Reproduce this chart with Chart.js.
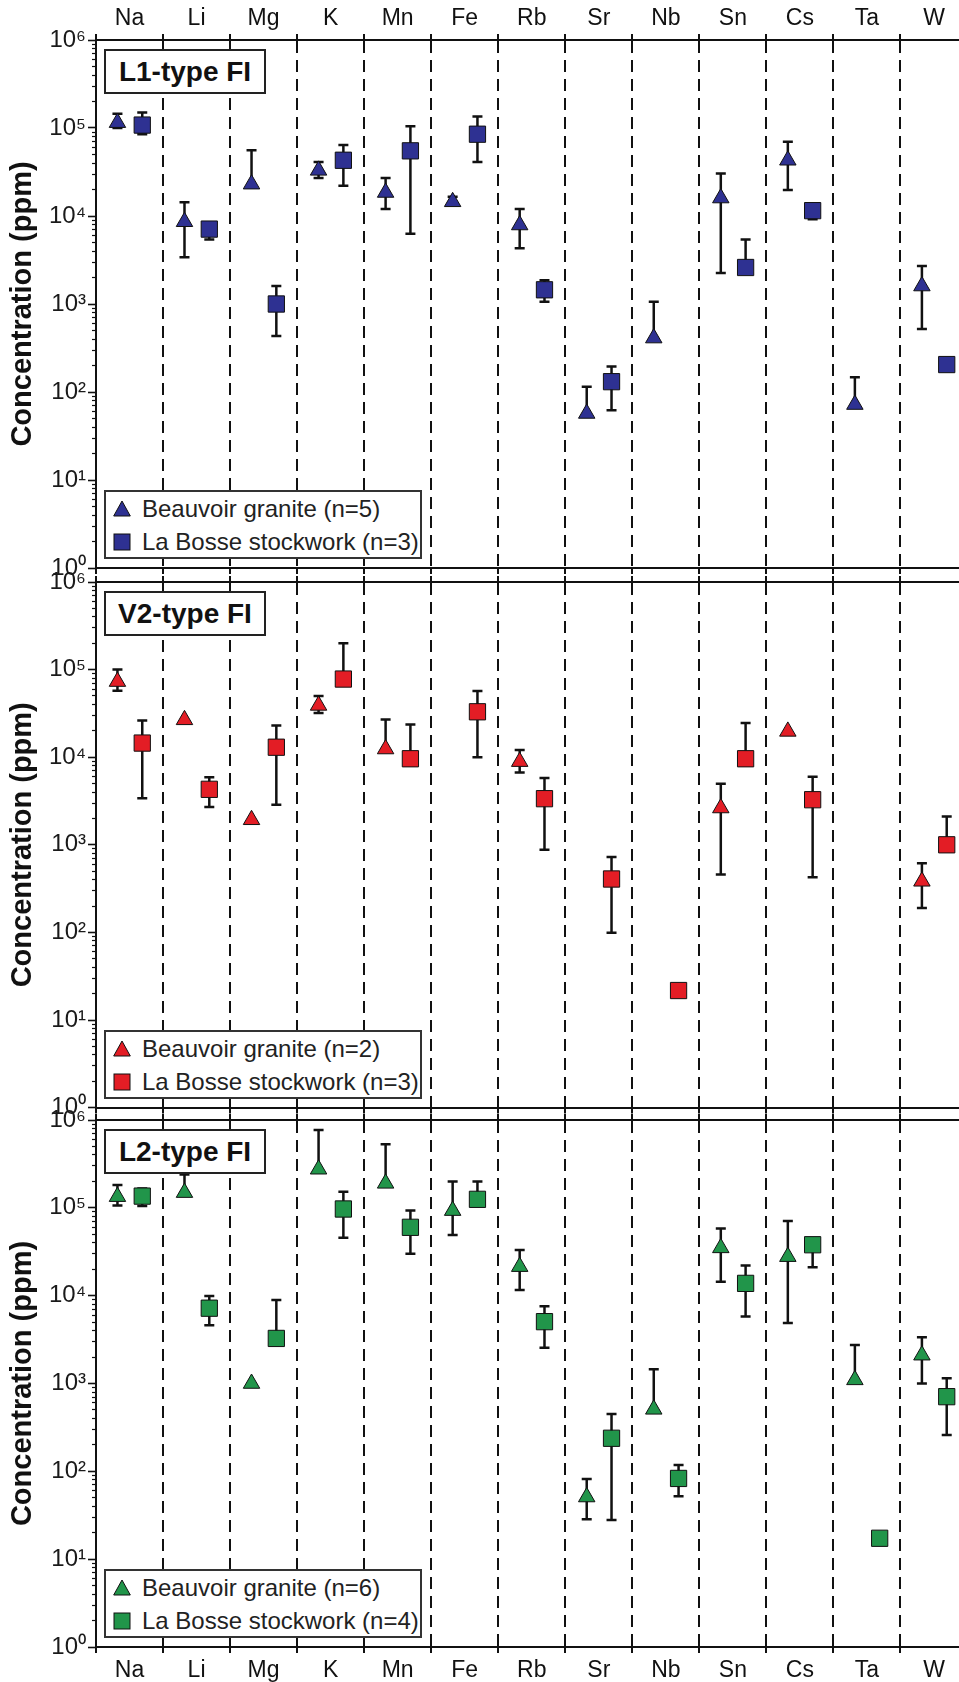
<!DOCTYPE html>
<html>
<head>
<meta charset="utf-8">
<script src="https://cdn.jsdelivr.net/npm/chart.js@4.4.0/dist/chart.umd.min.js"></script>
<style>
  html, body { margin: 0; padding: 0; background: #fff; overflow: hidden; }
  #page { position: relative; width: 959px; height: 1682px; overflow: hidden; background: #fff; }
  #page canvas { position: absolute; left: 0; }
  .tag {
    position: absolute; box-sizing: border-box; border: 2px solid #222; background: #fff;
    font: bold 28px "Liberation Sans", Arial, sans-serif; color: #111;
    text-align: center; line-height: 41px; white-space: nowrap;
  }
  .legend {
    position: absolute; box-sizing: border-box; border: 2px solid #333; background: #fff;
    font: 24px "Liberation Sans", Arial, sans-serif; color: #222;
  }
  .legend .row { position: absolute; left: 0; height: 30px; line-height: 30px; white-space: nowrap; }
  .legend svg { position: absolute; left: 7px; top: 6px; }
  .legend span { position: absolute; left: 36px; }
</style>
</head>
<body>
<div id="page"></div>
<script>
// Element columns and y ticks
const elements = ['Na', 'Li', 'Mg', 'K', 'Mn', 'Fe', 'Rb', 'Sr', 'Nb', 'Sn', 'Cs', 'Ta', 'W'];
const decades = [0, 1, 2, 3, 4, 5, 6];
const supDigits = ['\u2070', '\u00b9', '\u00b2', '\u00b3', '\u2074', '\u2075', '\u2076'];

// L1-type FI
const l1GraniteVal = [1.15e5, 8.6e3, 2.3e4, 3.3e4, 1.85e4, 1.45e4, 7.9e3, 57, 410, 1.6e4, 4.3e4, 72, 1.6e3];
const l1GraniteLo  = [1.0e5, 3.4e3, null, 2.7e4, 1.2e4, null, 4.3e3, null, null, 2.25e3, 1.97e4, null, 520];
const l1GraniteHi  = [1.45e5, 1.43e4, 5.6e4, 4.1e4, 2.7e4, 1.66e4, 1.2e4, 115, 1.06e3, 3.05e4, 7.0e4, 147, 2.7e3];
const l1StockVal   = [1.08e5, 7.1e3, 1.0e3, 4.3e4, 5.5e4, 8.5e4, 1.45e3, 131, null, 2.6e3, 1.15e4, null, 205];
const l1StockLo    = [8.5e4, 5.4e3, 433, 2.2e4, 6.3e3, 4.1e4, 1.06e3, 62, null, null, 9.2e3, null, null];
const l1StockHi    = [1.5e5, null, 1.6e3, 6.4e4, 1.05e5, 1.35e5, 1.86e3, 195, null, 5.4e3, null, null, null];

// V2-type FI
const v2GraniteVal = [7.3e4, 2.67e4, 1.93e3, 3.9e4, 1.24e4, null, 8.9e3, null, null, 2.63e3, 1.97e4, null, 383];
const v2GraniteLo  = [5.75e4, null, null, 3.2e4, null, null, 6.7e3, null, null, 457, null, null, 190];
const v2GraniteHi  = [1.0e5, null, null, 5.0e4, 2.7e4, null, 1.21e4, null, null, 4.98e3, null, null, 615];
const v2StockVal   = [1.45e4, 4.3e3, 1.3e4, 7.8e4, 9.6e3, 3.3e4, 3.36e3, 407, 21.7, 9.6e3, 3.27e3, null, 1.0e3];
const v2StockLo    = [3.4e3, 2.7e3, 2.86e3, null, null, 1.0e4, 880, 99, null, null, 427, null, null];
const v2StockHi    = [2.63e4, 5.9e3, 2.3e4, 2.0e5, 2.36e4, 5.7e4, 5.8e3, 725, null, 2.45e4, 6.0e3, null, 2.1e3];

// L2-type FI
const l2GraniteVal = [1.34e5, 1.49e5, 1.0e3, 2.75e5, 1.9e5, 9.3e4, 2.14e4, 51, 508, 3.5e4, 2.78e4, 1.1e3, 2.1e3];
const l2GraniteLo  = [1.06e5, null, null, null, null, 4.9e4, 1.16e4, 28.5, null, 1.44e4, 4.9e3, null, 1.0e3];
const l2GraniteHi  = [1.82e5, 2.4e5, null, 7.7e5, 5.3e5, 2.0e5, 3.3e4, 82, 1.45e3, 5.8e4, 7.1e4, 2.75e3, 3.36e3];
const l2StockVal   = [1.36e5, 7.2e3, 3.26e3, 9.7e4, 6.0e4, 1.25e5, 5.06e3, 238, 83, 1.38e4, 3.8e4, 17.3, 708];
const l2StockLo    = [1.05e5, 4.6e3, null, 4.57e4, 3.0e4, null, 2.55e3, 28, 52, 5.8e3, 2.1e4, null, 260];
const l2StockHi    = [1.66e5, 9.9e3, 8.9e3, 1.52e5, 9.3e4, 2.0e5, 7.6e3, 450, 118, 2.2e4, null, null, 1.15e3];

const FONT = '"Liberation Sans", Arial, sans-serif';
const INK = '#111';

var yTickValues = [];
decades.forEach(d => {
    for (var k = 1; k <= (d === 6 ? 1 : 9); k++) yTickValues.push(k * Math.pow(10, d));
});

function isPow10(v) {
    var l = Math.log10(v);
    return Math.abs(l - Math.round(l)) < 1e-9;
}

function points(vals, los, his, shift) {
    return vals
        .map((v, i) => ({ x: i + shift, y: v, lo: los[i], hi: his[i] }))
        .filter(p => p.y != null);
}

// error bars drawn behind the markers, through the chart scales
const errorBars = {
    id: 'errorBars',
    beforeDatasetsDraw(chart) {
        const { ctx, scales: { x, y } } = chart;
        ctx.save();
        ctx.strokeStyle = INK;
        ctx.lineWidth = 2.5;
        chart.data.datasets.forEach(ds => {
            ds.data.forEach(p => {
                if (p.lo == null && p.hi == null) return;
                const px = x.getPixelForValue(p.x);
                const top = y.getPixelForValue(p.hi != null ? p.hi : p.y);
                const bot = y.getPixelForValue(p.lo != null ? p.lo : p.y);
                ctx.beginPath();
                ctx.moveTo(px, top);
                ctx.lineTo(px, bot);
                if (p.hi != null) { ctx.moveTo(px - 5, top); ctx.lineTo(px + 5, top); }
                if (p.lo != null) { ctx.moveTo(px - 5, bot); ctx.lineTo(px + 5, bot); }
                ctx.stroke();
            });
        });
        ctx.restore();
    }
};

const panels = [
    { title: 'L1-type FI', color: '#2e3192', nG: 5, nS: 3,
      g: [l1GraniteVal, l1GraniteLo, l1GraniteHi], s: [l1StockVal, l1StockLo, l1StockHi],
      top: 0, height: 590, topAxis: 40, bottomAxis: 22, labels: 'top' },
    { title: 'V2-type FI', color: '#e31d25', nG: 2, nS: 3,
      g: [v2GraniteVal, v2GraniteLo, v2GraniteHi], s: [v2StockVal, v2StockLo, v2StockHi],
      top: 560, height: 564, topAxis: 22, bottomAxis: 16, labels: null },
    { title: 'L2-type FI', color: '#21954a', nG: 6, nS: 4,
      g: [l2GraniteVal, l2GraniteLo, l2GraniteHi], s: [l2StockVal, l2StockLo, l2StockHi],
      top: 1098, height: 584, topAxis: 22, bottomAxis: 35, labels: 'bottom' }
];

const page = document.getElementById('page');

function catAxis(position, size, showLabels, onArea) {
    return {
        type: 'category',
        axis: 'x',
        position: position,
        labels: elements,
        offset: true,
        grid: {
            offset: true,
            display: true,
            drawOnChartArea: onArea,
            color: INK,
            lineWidth: 2,
            tickLength: 6,
            tickColor: INK,
            tickWidth: 2,
            tickBorderDash: []
        },
        border: { display: true, color: INK, width: 2, dash: [12, 7] },
        ticks: {
            display: showLabels,
            autoSkip: false,
            maxRotation: 0,
            padding: position === 'top' ? 2 : 4,
            color: INK,
            font: { family: FONT, size: 23 }
        },
        afterFit: s => { s.height = size; }
    };
}

function legendIcon(style, color) {
    if (style === 'triangle') {
        return '<svg width="18" height="17"><polygon points="9,1 17.3,16 0.7,16" fill="' + color +
            '" stroke="#111" stroke-width="1"/></svg>';
    }
    return '<svg width="18" height="18"><rect x="1" y="1" width="16" height="16" fill="' + color +
        '" stroke="#111" stroke-width="1"/></svg>';
}

function addOverlays(chart, p) {
    var ca = chart.chartArea;

    var tag = document.createElement('div');
    tag.className = 'tag';
    tag.textContent = p.title;
    tag.style.left = (ca.left + 8) + 'px';
    tag.style.top = (p.top + ca.top + 9) + 'px';
    tag.style.width = '162px';
    tag.style.height = '45px';
    page.appendChild(tag);

    var leg = document.createElement('div');
    leg.className = 'legend';
    leg.style.left = (ca.left + 8) + 'px';
    leg.style.top = (p.top + ca.bottom - 9 - 69) + 'px';
    leg.style.width = '318px';
    leg.style.height = '69px';
    chart.data.datasets.forEach((ds, i) => {
        var row = document.createElement('div');
        row.className = 'row';
        row.style.top = (2 + i * 33) + 'px';
        row.innerHTML = legendIcon(ds.pointStyle, ds.backgroundColor) + '<span>' + ds.label + '</span>';
        leg.appendChild(row);
    });
    page.appendChild(leg);
}

panels.forEach(p => {
    var canvas = document.createElement('canvas');
    canvas.width = 980;
    canvas.height = p.height;
    canvas.style.top = p.top + 'px';
    page.appendChild(canvas);

    var chart = new Chart(canvas.getContext('2d'), {
        type: 'scatter',
        data: {
            datasets: [
                {
                    label: 'Beauvoir granite (n=' + p.nG + ')',
                    data: points(p.g[0], p.g[1], p.g[2], -0.18),
                    pointStyle: 'triangle',
                    pointRadius: 9.5,
                    backgroundColor: p.color,
                    borderColor: INK,
                    borderWidth: 1
                },
                {
                    label: 'La Bosse stockwork (n=' + p.nS + ')',
                    data: points(p.s[0], p.s[1], p.s[2], 0.19),
                    pointStyle: 'rect',
                    pointRadius: 11.5,
                    backgroundColor: p.color,
                    borderColor: INK,
                    borderWidth: 1
                }
            ]
        },
        options: {
            responsive: false,
            animation: false,
            events: [],
            layout: { padding: { left: 0, right: 8, top: 0, bottom: 0 } },
            plugins: {
                legend: { display: false },
                tooltip: { enabled: false }
            },
            scales: {
                x: { type: 'linear', display: false, min: -0.5, max: 12.5 },
                cTop: catAxis('top', p.topAxis, p.labels === 'top', true),
                cBot: catAxis('bottom', p.bottomAxis, p.labels === 'bottom', false),
                y: {
                    type: 'logarithmic',
                    position: 'left',
                    min: 1,
                    max: 1e6,
                    afterBuildTicks: s => {
                        s.ticks = yTickValues.map(v => ({ value: v, major: isPow10(v) }));
                    },
                    afterFit: s => { s.width = 96; },
                    grid: {
                        display: true,
                        drawOnChartArea: false,
                        tickLength: 8,
                        tickColor: INK,
                        tickWidth: ctx => (ctx.tick && isPow10(ctx.tick.value)) ? 1.6 : 1.2,
                        tickBorderDash: ctx => (ctx.tick && isPow10(ctx.tick.value)) ? [] : [4, 4],
                        tickBorderDashOffset: 4
                    },
                    border: { display: true, color: INK, width: 2 },
                    ticks: {
                        autoSkip: false,
                        padding: 2,
                        color: '#1a1a1a',
                        font: { family: FONT, size: 24 },
                        callback: v => isPow10(v) ? '10' + supDigits[Math.round(Math.log10(v))] : ''
                    },
                    title: {
                        display: true,
                        text: 'Concentration (ppm)',
                        color: INK,
                        font: { family: FONT, size: 29, weight: 'bold' },
                        padding: { top: 6, bottom: 0 }
                    }
                }
            }
        },
        plugins: [errorBars]
    });

    addOverlays(chart, p);
});
</script>
</body>
</html>
